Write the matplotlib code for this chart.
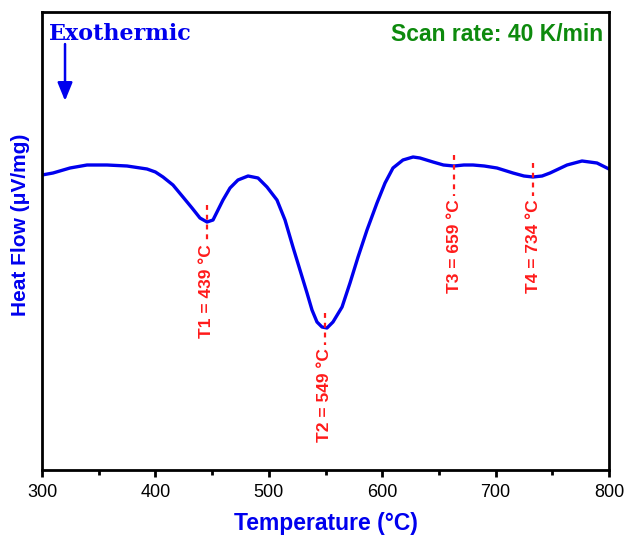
import matplotlib
matplotlib.use("Agg")
import matplotlib.pyplot as plt
from matplotlib.ticker import MultipleLocator

# Temperature (°C) and heat flow (arbitrary µV/mg units)
temperature = [300.0, 309.7, 324.7, 339.7, 357.3, 375.0, 392.6, 400.0, 406.7, 415.5,
               424.3, 432.3, 439.3, 445.5, 450.8, 455.2, 459.6, 465.8, 472.8, 481.7,
               490.5, 498.4, 507.2, 514.3, 521.3, 527.5, 533.7, 538.1, 542.5, 546.9,
               551.3, 556.6, 564.6, 571.6, 578.7, 586.6, 595.4, 602.5, 609.5, 618.3,
               627.2, 633.3, 644.8, 654.0, 663.3, 672.0, 680.1, 690.0, 701.2, 715.3,
               725.0, 733.0, 741.0, 748.0, 763.0, 776.2, 789.4, 800.0]
heat_flow = [0.00, 0.02, 0.07, 0.10, 0.10, 0.09, 0.06, 0.03, -0.02, -0.10,
             -0.22, -0.33, -0.43, -0.47, -0.45, -0.35, -0.25, -0.13, -0.05, -0.01,
             -0.03, -0.12, -0.25, -0.45, -0.72, -0.95, -1.18, -1.35, -1.47, -1.52,
             -1.53, -1.47, -1.32, -1.08, -0.82, -0.55, -0.28, -0.08, 0.07, 0.15,
             0.18, 0.17, 0.13, 0.10, 0.09, 0.10, 0.10, 0.09, 0.07, 0.02,
             -0.01, -0.02, -0.01, 0.02, 0.10, 0.14, 0.12, 0.06]

# Peak markers: position on curve, dashed span, label
peak_x = [445.5, 549.5, 663.5, 733.0]
peak_dash_top = [-0.30, -1.38, 0.20, 0.12]
peak_dash_bottom = [-0.66, -1.70, -0.21, -0.21]
peak_label_top = [-0.69, -1.73, -0.24, -0.24]
peak_labels = ["T1 = 439 \u00b0C", "T2 = 549 \u00b0C", "T3 = 659 \u00b0C", "T4 = 734 \u00b0C"]

x_ticks = [300, 400, 500, 600, 700, 800]

fig = plt.figure(figsize=(6.28, 5.36), dpi=100)
ax = fig.add_axes([42/628, 66/536, 567/628, 458/536])

ax.plot(temperature, heat_flow, color="#0000ee", lw=2.4, solid_joinstyle="round",
        solid_capstyle="round")

for xp, t, b, lt, lab in zip(peak_x, peak_dash_top, peak_dash_bottom, peak_label_top, peak_labels):
    ax.plot([xp, xp], [t, b], color="#ff1a1a", lw=1.6, dashes=(2.2, 2.2))
    ax.text(xp, lt, lab, rotation=90, ha="center", va="top", color="#ff1a1a",
            fontsize=12.5, fontweight="bold", family="Liberation Sans")

ax.set_xlim(300, 800)
ax.set_ylim(-2.95, 1.63)
ax.set_xticks(x_ticks)
ax.set_xticklabels([str(v) for v in x_ticks], family="Liberation Sans", fontsize=13)
ax.xaxis.set_minor_locator(MultipleLocator(50))
ax.set_yticks([])
ax.tick_params(axis="x", which="major", direction="out", length=5, width=2, pad=5,
               top=False)
ax.tick_params(axis="x", which="minor", direction="out", length=3.5, width=2, top=False)
for s in ax.spines.values():
    s.set_linewidth(2)

ax.set_xlabel("Temperature (\u00b0C)", color="#0000ee", fontsize=16.5,
              fontweight="bold", family="Liberation Sans", labelpad=8)
ax.set_ylabel("Heat Flow (\u03bcV/mg)", color="#0000ee", fontsize=15,
              fontweight="bold", family="Liberation Sans")
ax.yaxis.set_label_coords(-0.021, 0.535)

ax.text(0.0123, 0.939, "Exothermic", transform=ax.transAxes, ha="left", va="baseline",
        color="#0000ee", fontsize=16, fontweight="bold", family="DejaVu Serif")
ax.text(0.989, 0.937, "Scan rate: 40 K/min", transform=ax.transAxes, ha="right",
        va="baseline", color="#0d8a0d", fontsize=16.5, fontweight="bold",
        family="Liberation Sans")
ax.annotate("", xy=(0.0406, 0.806), xytext=(0.0406, 0.930), xycoords="axes fraction",
            arrowprops=dict(arrowstyle="-|>,head_length=1.1,head_width=0.45",
                            color="#0000ee", lw=1.8, shrinkA=0, shrinkB=0))

fig.savefig("out.png", dpi=100)
